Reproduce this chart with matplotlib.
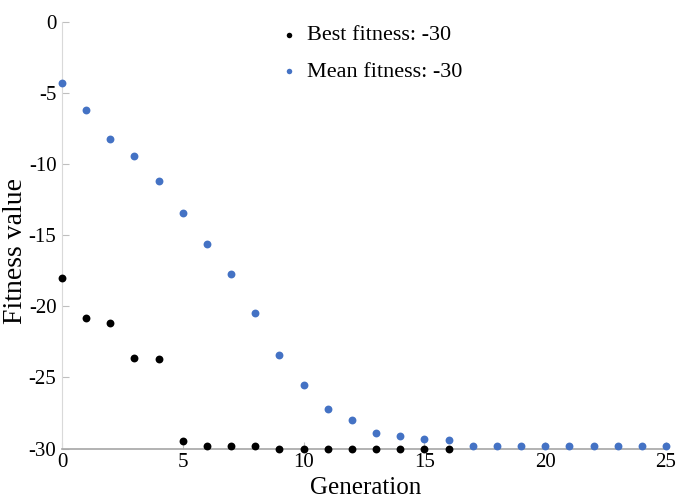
import matplotlib
matplotlib.use("Agg")
import matplotlib.pyplot as plt

generations_best = list(range(0, 17))
best_fitness = [-18.0, -20.8, -21.2, -23.6, -23.7, -29.5, -29.8, -29.8, -29.8,
                -30.0, -30.0, -30.0, -30.0, -30.0, -30.0, -30.0, -30.0]
generations_mean = list(range(0, 26))
mean_fitness = [-4.3, -6.2, -8.2, -9.4, -11.2, -13.4, -15.6, -17.7, -20.5, -23.4,
                -25.5, -27.25, -28.0, -28.9, -29.1, -29.3, -29.4, -29.8, -29.8,
                -29.8, -29.8, -29.8, -29.8, -29.8, -29.8, -29.8]
x_ticks = [0, 5, 10, 15, 20, 25]
y_ticks = [0, -5, -10, -15, -20, -25, -30]
legend_labels = ["Best fitness: -30", "Mean fitness: -30"]

plt.rcParams['font.family'] = ['Liberation Serif', 'DejaVu Serif']

fig = plt.figure(figsize=(6.78, 5.04), dpi=100)
ax = fig.add_axes([62/678, (504-448.5)/504, (666-62)/678, (448.5-22)/504])

ax.scatter(generations_best, best_fitness, s=32, color='black', zorder=3,
           clip_on=False, label=legend_labels[0], linewidths=0)
ax.scatter(generations_mean, mean_fitness, s=32, color='#4472C4', zorder=3,
           clip_on=False, label=legend_labels[1], linewidths=0)

ax.set_xlim(0, 25)
ax.set_ylim(-30, 0)
ax.set_xticks(x_ticks)
ax.set_yticks(y_ticks)
ax.set_yticklabels([str(v) for v in y_ticks])

for s in ['top', 'right']:
    ax.spines[s].set_visible(False)
ax.spines['left'].set_color('#d9d9d9')
ax.spines['bottom'].set_color('#a6a6a6')
ax.spines['bottom'].set_linewidth(1.2)
ax.tick_params(axis='both', direction='in', length=5, colors='#bfbfbf',
               labelcolor='black', labelsize=15, pad=4)
ax.tick_params(axis='x', pad=3)

ax.set_xlabel('Generation', fontsize=18)
ax.xaxis.set_label_coords(0.503, -0.093)
ax.xaxis.label.set_va('center')
ax.set_ylabel('Fitness value', fontsize=20)
ax.yaxis.set_label_coords(-0.057, 0.463)

leg = ax.legend(loc='upper center', bbox_to_anchor=(0.51, 1.04), frameon=False,
                fontsize=16, handletextpad=0.3, labelspacing=0.72,
                markerscale=0.7, handlelength=1.0)

fig.savefig('out.png', dpi=100)
